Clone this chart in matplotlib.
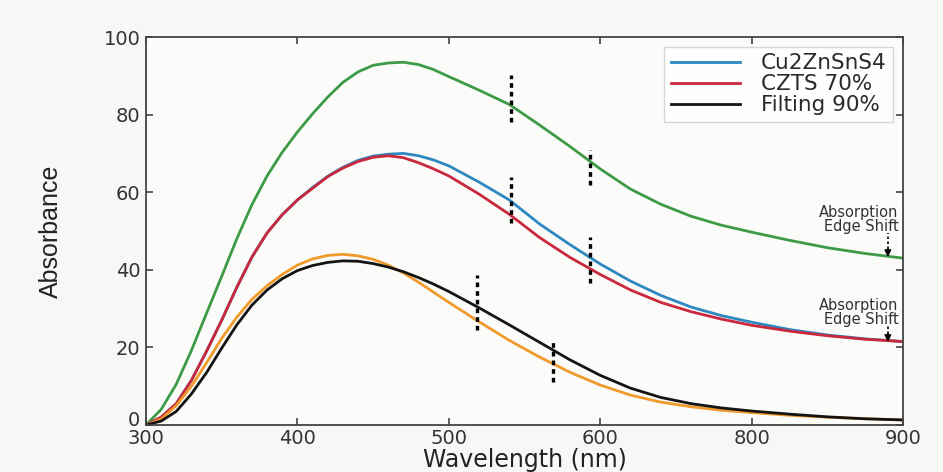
import matplotlib
matplotlib.use("Agg")
import matplotlib.pyplot as plt
import matplotlib.transforms as mtransforms
from matplotlib.lines import Line2D

# x positions on the axis (ticks are evenly spaced, labelled 300..600, 800, 900)
wl = [300, 310, 320, 330, 340, 350, 360, 370, 380, 390, 400, 410, 420, 430, 440,
      450, 460, 470, 480, 490, 500, 520, 540, 560, 580, 600, 620, 640, 660, 680,
      700, 725, 750, 775, 800]

green = [0, 4, 10.5, 19.2, 28.8, 38.3, 48, 56.8, 64.2, 70.3, 75.5, 80.2, 84.5, 88.3, 91,
         92.7, 93.3, 93.5, 92.9, 91.6, 89.8, 86.3, 82.6, 77.3, 71.8, 66, 60.8, 56.9, 53.8, 51.5,
         49.7, 47.6, 45.7, 44.2, 43]
blue = [0, 2, 5.5, 11.5, 19, 27, 35.5, 43.3, 49.5, 54.2, 58, 61.2, 64.1, 66.4, 68.2,
        69.3, 69.8, 70, 69.4, 68.3, 66.8, 62.6, 58, 51.8, 46.5, 41.5, 37.1, 33.4, 30.4, 28.2,
        26.5, 24.6, 23.2, 22.2, 21.5]
red = [0, 2, 5.5, 11.5, 19, 27, 35.5, 43.3, 49.5, 54.2, 58, 61, 64, 66.2, 67.9,
       69, 69.4, 68.9, 67.6, 66, 64.2, 59.5, 54.3, 48.3, 43.2, 38.8, 34.8, 31.6, 29.2, 27.3,
       25.7, 24.2, 23, 22.1, 21.5]
orange = [0, 1.5, 5, 10, 16, 22.3, 27.8, 32.4, 35.9, 38.8, 41.2, 42.8, 43.7, 44, 43.6,
          42.7, 41.2, 39.2, 36.8, 34.2, 31.6, 26.6, 21.8, 17.5, 13.6, 10.3, 7.7, 5.9, 4.7, 3.8,
          3.2, 2.5, 2, 1.6, 1.3]
black = [0, 1, 3.5, 8, 13.5, 19.8, 25.8, 30.9, 34.8, 37.7, 39.8, 41.1, 41.9, 42.3, 42.2,
         41.6, 40.7, 39.5, 38, 36.3, 34.4, 30.2, 25.8, 21.3, 16.8, 12.8, 9.5, 7.1, 5.5, 4.4,
         3.6, 2.8, 2.1, 1.6, 1.3]

tick_pos = [300, 400, 500, 600, 700, 800]
tick_lab = ["300", "400", "500", "600", "800", "900"]

# dotted markers: x, ymin, ymax
marks_x = [540.9, 593.3, 540.9, 593.3, 518.4, 569.0]
marks_lo = [78.2, 61.9, 52.0, 36.5, 24.5, 11.2]
marks_hi = [90.2, 70.9, 64.0, 48.5, 38.7, 21.5]

c_green = "#3d9b46"
c_blue = "#2d87c0"
c_red = "#c9283d"
c_orange = "#f09a2c"
c_black = "#141414"

fig = plt.figure(figsize=(9.43, 4.72), dpi=100, facecolor="#f7f7f5")
ax = fig.add_axes([0.1548, 0.0996, 0.8028, 0.822])
ax.set_facecolor("#fbfbfa")

lw = 2.0
ax.plot(wl, green, color=c_green, lw=lw)
ax.plot(wl, blue, color=c_blue, lw=lw)
ax.plot(wl, red, color=c_red, lw=lw)
ax.plot(wl, orange, color=c_orange, lw=lw)
ax.plot(wl, black, color=c_black, lw=lw)

ax.vlines(marks_x, marks_lo, marks_hi, colors="k", linestyles=(0, (1.4, 1.2)), lw=2.4)

# absorption edge shift notes
for ty, ay0, ay1 in [(53, 49.5, 43.3), (29, 25.8, 21.4)]:
    ax.text(797, ty, "Absorption\nEdge Shift", ha="right", va="center",
            fontsize=10.5, linespacing=0.9, color="#333333")
    ax.vlines(790, ay1 + 2, ay0, colors="k", linestyles=(0, (1.5, 1.5)), lw=1.2)
    ax.annotate("", xy=(790, ay1), xytext=(790, ay1 + 2.2),
                arrowprops=dict(arrowstyle="-|>", color="k", lw=1.0,
                                mutation_scale=10, shrinkA=0, shrinkB=0))

ax.set_xlim(300, 800)
ax.set_ylim(0, 100)
ax.set_xticks(tick_pos)
ax.set_xticklabels(tick_lab)
ax.set_yticks([0, 20, 40, 60, 80, 100])

ax.tick_params(direction="in", length=5, width=1.1, top=True, right=True,
               labelsize=14, colors="#333333", pad=4)
ax.tick_params(axis="x", pad=3)
for s in ax.spines.values():
    s.set_color("#444444")
    s.set_linewidth(1.3)

# the "0" sits just above the "300" in the corner
ylab0 = ax.get_yticklabels()[0]
ylab0.set_transform(ylab0.get_transform() +
                    mtransforms.ScaledTranslation(0, 5 / 72, fig.dpi_scale_trans))

ax.set_xlabel("Wavelength (nm)", fontsize=17, color="#222222", labelpad=0)
ax.set_ylabel("Absorbance", fontsize=18, color="#222222",
              family=["Liberation Sans Narrow", "Liberation Sans", "DejaVu Sans"])
ax.yaxis.set_label_coords(-0.11, 0.5)

handles = [Line2D([], [], color=c_blue, lw=lw),
           Line2D([], [], color=c_red, lw=lw),
           Line2D([], [], color=c_black, lw=lw)]
leg = ax.legend(handles, ["Cu2ZnSnS4", "CZTS 70%", "Filting 90%"], loc="upper right",
                fontsize=15.5, handlelength=3.2, labelspacing=0.05, borderpad=0.3,
                handletextpad=1.0, frameon=True, fancybox=False, borderaxespad=0.45)
leg.get_frame().set_edgecolor("#cccccc")
leg.get_frame().set_linewidth(1.0)
for t in leg.get_texts():
    t.set_color("#2a2a2a")

fig.savefig("out.png", dpi=100, facecolor=fig.get_facecolor())
